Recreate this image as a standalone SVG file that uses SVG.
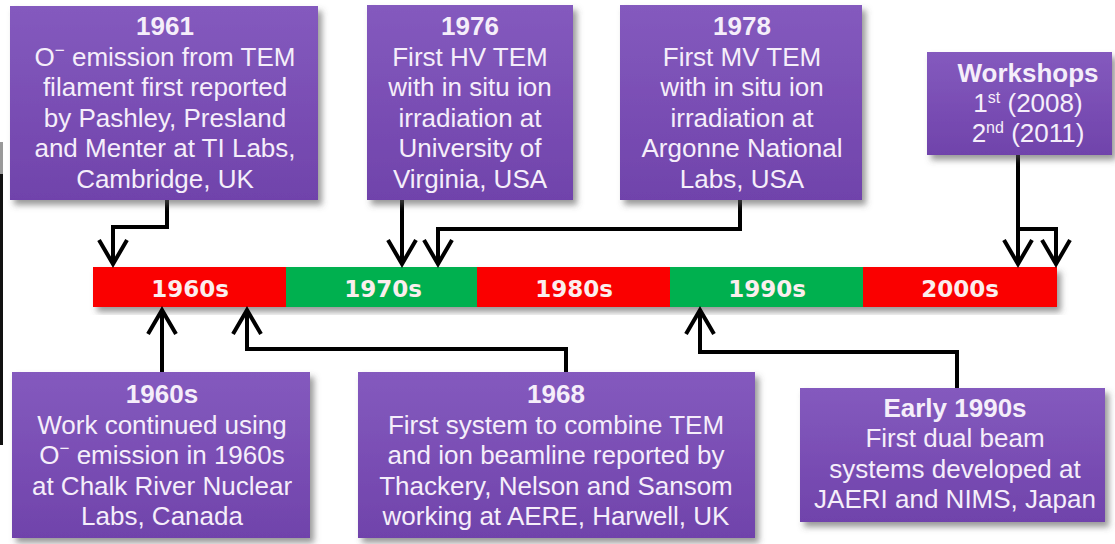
<svg xmlns="http://www.w3.org/2000/svg" width="1115" height="544" viewBox="0 0 1115 544">
<style>
.box{fill:url(#pg);filter:url(#sh)}
.t{font-family:"Liberation Sans",Arial,sans-serif;font-size:26px;fill:#f5eefa;text-anchor:middle}
.b{font-weight:bold}
.bar{font-family:"DejaVu Sans","Liberation Sans",sans-serif;font-size:23px;font-weight:bold;fill:#fbeeee;text-anchor:middle}
.c{fill:none;stroke:#000;stroke-width:4;stroke-linejoin:miter}
.a{marker-end:url(#arr)}
</style>
<defs>
<linearGradient id="pg" x1="0" y1="0" x2="0" y2="1">
<stop offset="0" stop-color="#845abe"/>
<stop offset="1" stop-color="#7043ab"/>
</linearGradient>
<filter id="sh" x="-10%" y="-10%" width="125%" height="130%">
<feDropShadow dx="4" dy="5" stdDeviation="3" flood-color="#555" flood-opacity="0.6"/>
</filter>
<marker id="arr" markerUnits="userSpaceOnUse" markerWidth="40" markerHeight="40" viewBox="-30 -20 40 40" refX="0" refY="0" orient="auto">
<path d="M-24,-14 L0,0 L-24,14" fill="none" stroke="#000" stroke-width="4"/>
</marker>
</defs>
<rect width="1115" height="544" fill="#fff"/>
<rect x="0" y="142" width="3" height="32" fill="#999"/>
<rect x="0" y="174" width="3" height="271" fill="#111"/>

<g id="timeline" filter="url(#sh)">
<rect x="93" y="267" width="193" height="40" fill="#fa0505"/>
<rect x="286" y="267" width="191" height="40" fill="#00b04f"/>
<rect x="477" y="267" width="193" height="40" fill="#fa0505"/>
<rect x="670" y="267" width="193" height="40" fill="#00b04f"/>
<rect x="863" y="267" width="194" height="40" fill="#fa0505"/>
</g>
<g id="timeline-labels">
<text class="bar" x="190" y="297">1960s</text>
<text class="bar" x="383" y="297">1970s</text>
<text class="bar" x="574" y="297">1980s</text>
<text class="bar" x="767" y="297">1990s</text>
<text class="bar" x="960" y="297">2000s</text>
</g>

<g id="connectors">
<path class="c a" d="M167,200 V227 H113 V264"/>
<path class="c a" d="M402,200 V264"/>
<path class="c a" d="M740,200 V229 H438 V264"/>
<path class="c a" d="M1018,155 V264"/>
<path class="c a" d="M1018,229 H1056 V264"/>
<path class="c a" d="M162,372 V310"/>
<path class="c a" d="M566,372 V349 H247 V310"/>
<path class="c a" d="M957,388 V352 H700 V310"/>
</g>

<g id="n1961">
<rect class="box" x="10" y="6" width="308" height="194"/>
<text class="t"><tspan class="b" x="165" y="35">1961</tspan><tspan x="165" y="65.6">O<tspan font-size="17" dy="-10">−</tspan><tspan dy="10"> emission from TEM</tspan></tspan><tspan x="165" y="96.2">filament first reported</tspan><tspan x="165" y="126.8">by Pashley, Presland</tspan><tspan x="165" y="157.4">and Menter at TI Labs,</tspan><tspan x="165" y="188">Cambridge, UK</tspan></text>
</g>

<g id="n1976">
<rect class="box" x="367" y="5" width="206" height="195"/>
<text class="t"><tspan class="b" x="470" y="35">1976</tspan><tspan x="470" y="65.6">First HV TEM</tspan><tspan x="470" y="96.2">with in situ ion</tspan><tspan x="470" y="126.8">irradiation at</tspan><tspan x="470" y="157.4">University of</tspan><tspan x="470" y="188">Virginia, USA</tspan></text>
</g>

<g id="n1978">
<rect class="box" x="620" y="5" width="242" height="195"/>
<text class="t"><tspan class="b" x="742" y="35">1978</tspan><tspan x="742" y="65.6">First MV TEM</tspan><tspan x="742" y="96.2">with in situ ion</tspan><tspan x="742" y="126.8">irradiation at</tspan><tspan x="742" y="157.4">Argonne National</tspan><tspan x="742" y="188">Labs, USA</tspan></text>
</g>

<g id="nWorkshops">
<rect class="box" x="927" y="52" width="185" height="103"/>
<text class="t"><tspan class="b" x="1028" y="82">Workshops</tspan><tspan x="1028" y="112">1<tspan font-size="16" dy="-9">st</tspan><tspan dy="9"> (2008)</tspan></tspan><tspan x="1028" y="142">2<tspan font-size="16" dy="-9">nd</tspan><tspan dy="9"> (2011)</tspan></tspan></text>
</g>

<g id="n1960s">
<rect class="box" x="12" y="372" width="298" height="166"/>
<text class="t"><tspan class="b" x="162" y="403">1960s</tspan><tspan x="162" y="433.5">Work continued using</tspan><tspan x="162" y="464">O<tspan font-size="17" dy="-10">−</tspan><tspan dy="10"> emission in 1960s</tspan></tspan><tspan x="162" y="494.5">at Chalk River Nuclear</tspan><tspan x="162" y="525">Labs, Canada</tspan></text>
</g>

<g id="n1968">
<rect class="box" x="358" y="372" width="397" height="166"/>
<text class="t"><tspan class="b" x="556" y="403">1968</tspan><tspan x="556" y="433.5">First system to combine TEM</tspan><tspan x="556" y="464">and ion beamline reported by</tspan><tspan x="556" y="494.5">Thackery, Nelson and Sansom</tspan><tspan x="556" y="525">working at AERE, Harwell, UK</tspan></text>
</g>

<g id="nEarly1990s">
<rect class="box" x="800" y="388" width="305" height="134"/>
<text class="t"><tspan class="b" x="955" y="417">Early 1990s</tspan><tspan x="955" y="447">First dual beam</tspan><tspan x="955" y="478">systems developed at</tspan><tspan x="955" y="508">JAERI and NIMS, Japan</tspan></text>
</g>
</svg>
